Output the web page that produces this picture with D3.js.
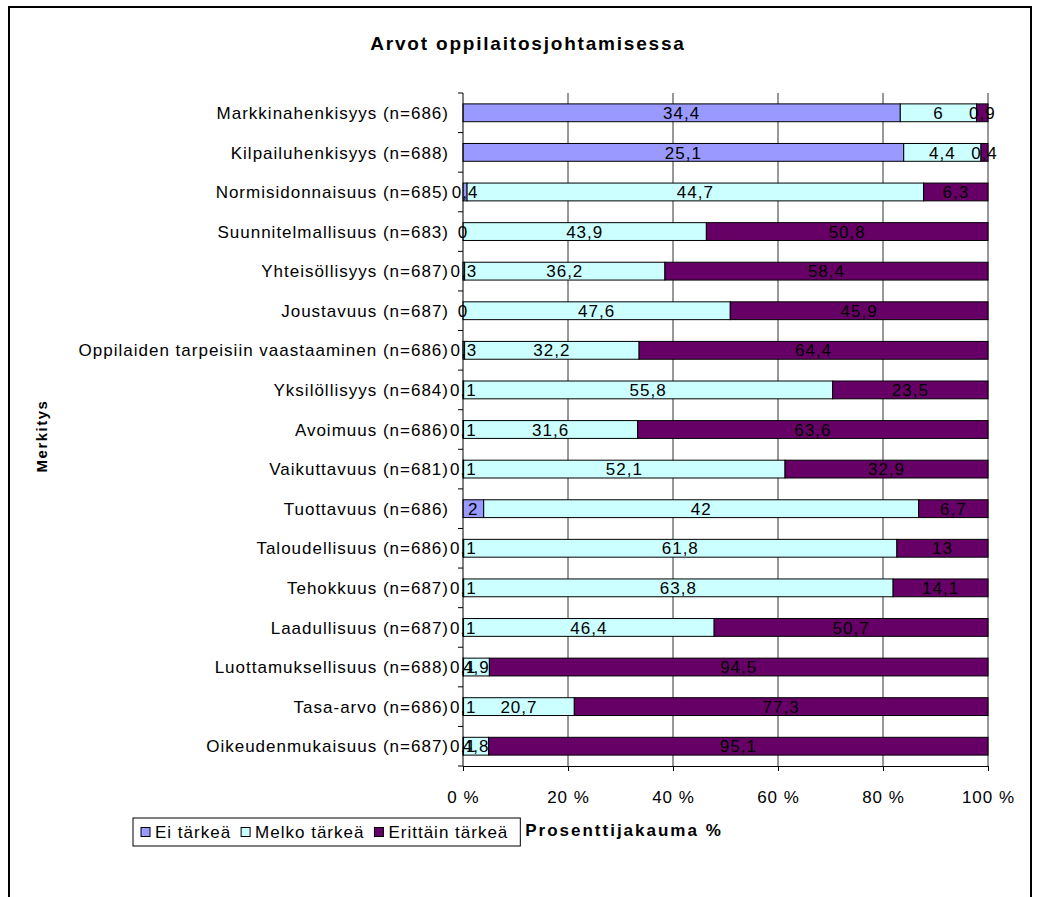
<!DOCTYPE html>
<html lang="fi">
<head>
<meta charset="UTF-8">
<title>Arvot oppilaitosjohtamisessa</title>
<style>
    body { margin: 0; padding: 0; background: #fff; }
    svg { display: block; }
    text { font-family: "Liberation Sans", Arial, sans-serif; fill: #000; }
    .lbl { font-size: 17px; letter-spacing: 1px; }
    .bold { font-weight: bold; }
</style>
</head>
<body>
<div id="chart"></div>
<script src="https://d3js.org/d3.v7.min.js"></script>
<script>
    // Kategoriat ja arvot (prosentteja, luettu kuvasta)
    const categories = [
        "Markkinahenkisyys (n=686)",
        "Kilpailuhenkisyys (n=688)",
        "Normisidonnaisuus (n=685)",
        "Suunnitelmallisuus (n=683)",
        "Yhteisöllisyys (n=687)",
        "Joustavuus (n=687)",
        "Oppilaiden tarpeisiin vaastaaminen (n=686)",
        "Yksilöllisyys (n=684)",
        "Avoimuus (n=686)",
        "Vaikuttavuus (n=681)",
        "Tuottavuus (n=686)",
        "Taloudellisuus (n=686)",
        "Tehokkuus (n=687)",
        "Laadullisuus (n=687)",
        "Luottamuksellisuus (n=688)",
        "Tasa-arvo (n=686)",
        "Oikeudenmukaisuus (n=687)"
    ];
    const eiTarkea = [34.4, 25.1, 0.4, 0, 0.3, 0, 0.3, 0.1, 0.1, 0.1, 2, 0.1, 0.1, 0.1, 0.1, 0.1, 0.1];
    const melkoTarkea = [6, 4.4, 44.7, 43.9, 36.2, 47.6, 32.2, 55.8, 31.6, 52.1, 42, 61.8, 63.8, 46.4, 4.9, 20.7, 4.8];
    const erittainTarkea = [0.9, 0.4, 6.3, 50.8, 58.4, 45.9, 64.4, 23.5, 63.6, 32.9, 6.7, 13, 14.1, 50.7, 94.5, 77.3, 95.1];
    const seriesNames = ["Ei tärkeä", "Melko tärkeä", "Erittäin tärkeä"];
    const seriesColors = ["#9999FF", "#CCFFFF", "#660066"];
    const xTicks = [0, 0.2, 0.4, 0.6, 0.8, 1];

    const W = 1038, H = 897;
    const plot = { left: 463, right: 988, top: 93, bottom: 766 };

    const rows = categories.map((c, i) => ({
        cat: c, s0: eiTarkea[i], s1: melkoTarkea[i], s2: erittainTarkea[i]
    }));
    const keys = ["s0", "s1", "s2"];
    const stacked = d3.stack().keys(keys).offset(d3.stackOffsetExpand)(rows);

    const svg = d3.select("#chart").append("svg")
        .attr("width", W).attr("height", H);

    // ulkokehys
    svg.append("rect")
        .attr("x", 9).attr("y", 7).attr("width", 1022).attr("height", 905)
        .attr("fill", "none").attr("stroke", "#000").attr("stroke-width", 2);

    const x = d3.scaleLinear().domain([0, 1]).range([plot.left, plot.right]);
    const yRow = d3.scaleBand().domain(categories).range([plot.top, plot.bottom]).padding(0);
    const barH = yRow.bandwidth() * 0.45;
    const yMid = c => yRow(c) + yRow.bandwidth() / 2;

    // otsikko
    svg.append("text")
        .attr("class", "bold")
        .attr("x", 528).attr("y", 50)
        .attr("text-anchor", "middle")
        .style("font-size", "19px").style("letter-spacing", "1.8px")
        .text("Arvot oppilaitosjohtamisessa");

    // pystyviivat
    svg.append("g").selectAll("line")
        .data(xTicks.slice(1))
        .enter().append("line")
        .attr("x1", d => x(d)).attr("x2", d => x(d))
        .attr("y1", plot.top).attr("y2", plot.bottom)
        .attr("stroke", "#333").attr("stroke-width", 1);

    // pylväät
    const layer = svg.append("g").selectAll("g")
        .data(stacked)
        .enter().append("g")
        .attr("fill", (d, i) => seriesColors[i]);

    layer.selectAll("rect")
        .data(d => d)
        .enter().append("rect")
        .attr("x", d => x(d[0]))
        .attr("y", d => yMid(d.data.cat) - barH / 2)
        .attr("width", d => x(d[1]) - x(d[0]))
        .attr("height", barH)
        .attr("stroke", "#000").attr("stroke-width", 1);

    // arvot
    const fmt = v => String(v).replace(".", ",");
    stacked.forEach((s, si) => {
        svg.append("g").selectAll("text")
            .data(s)
            .enter().append("text")
            .attr("class", "lbl")
            .attr("x", d => (x(d[0]) + x(d[1])) / 2)
            .attr("y", d => yMid(d.data.cat))
            .attr("dy", "0.36em")
            .attr("text-anchor", "middle")
            .text(d => fmt(d.data[keys[si]]));
    });

    // y-akseli
    const yAxis = svg.append("g");
    yAxis.append("line")
        .attr("x1", plot.left).attr("x2", plot.left)
        .attr("y1", plot.top).attr("y2", plot.bottom)
        .attr("stroke", "#000");
    const bounds = categories.map(c => yRow(c)).concat([plot.bottom]);
    yAxis.selectAll(".tk")
        .data(bounds)
        .enter().append("line")
        .attr("x1", plot.left - 5).attr("x2", plot.left)
        .attr("y1", d => d).attr("y2", d => d)
        .attr("stroke", "#000");
    yAxis.selectAll("text")
        .data(categories)
        .enter().append("text")
        .attr("class", "lbl")
        .attr("x", 449)
        .attr("y", d => yMid(d))
        .attr("dy", "0.36em")
        .attr("text-anchor", "end")
        .text(d => d);

    // x-akseli
    const xAxis = d3.axisBottom(x)
        .tickValues(xTicks)
        .tickSize(5)
        .tickFormat(d => Math.round(d * 100) + " %");
    const xg = svg.append("g")
        .attr("transform", `translate(0,${plot.bottom})`)
        .call(xAxis);
    xg.select(".domain").attr("stroke", "#000");
    xg.selectAll(".tick line").attr("stroke", "#000");
    xg.selectAll(".tick text")
        .attr("class", "lbl")
        .attr("font-family", null).attr("font-size", null)
        .attr("y", 25);

    // akselien otsikot
    svg.append("text")
        .attr("class", "bold")
        .attr("x", 624).attr("y", 836)
        .attr("text-anchor", "middle")
        .style("font-size", "17px").style("letter-spacing", "2px")
        .text("Prosenttijakauma %");

    svg.append("text")
        .attr("class", "bold")
        .attr("transform", "translate(47,436) rotate(-90)")
        .attr("text-anchor", "middle")
        .style("font-size", "15px").style("letter-spacing", "1.5px")
        .text("Merkitys");

    // selite
    const legend = svg.append("g");
    const legBox = legend.append("rect")
        .attr("x", 133).attr("y", 818).attr("height", 28)
        .attr("fill", "#fff").attr("stroke", "#000");
    let lx = 141;
    seriesNames.forEach((name, i) => {
        legend.append("rect")
            .attr("x", lx).attr("y", 827.5).attr("width", 9).attr("height", 9)
            .attr("fill", seriesColors[i]).attr("stroke", "#000");
        const t = legend.append("text")
            .attr("class", "lbl")
            .attr("x", lx + 14).attr("y", 838)
            .text(name);
        lx += 14 + t.node().getComputedTextLength() + 10;
    });
    legBox.attr("width", lx - 133 + 2);
</script>
</body>
</html>
